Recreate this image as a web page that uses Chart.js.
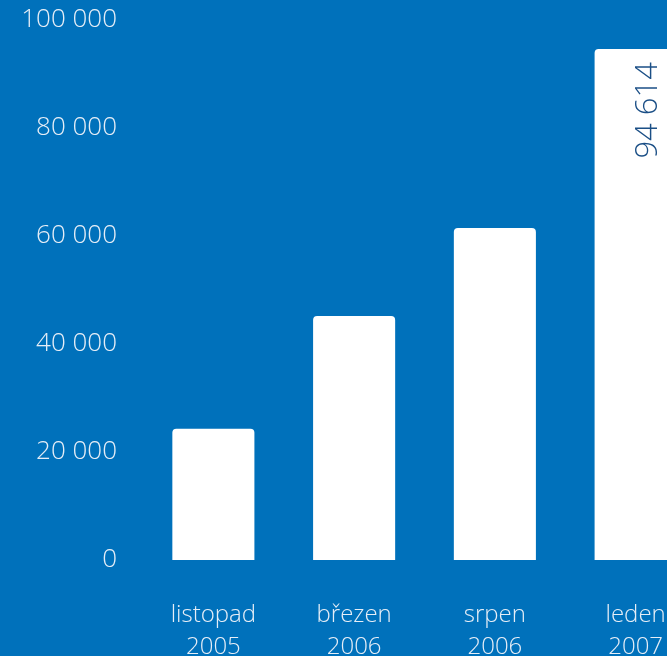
<!DOCTYPE html>
<html>
<head>
<meta charset="utf-8">
<script src="https://cdn.jsdelivr.net/npm/chart.js@4"></script>
<style>
    html, body { margin: 0; padding: 0; background: #0071bb; overflow: hidden; }
    #wrap { width: 710px; height: 656px; }
</style>
</head>
<body>
<div id="wrap"><canvas id="chart" width="710" height="656"></canvas></div>
<script>
(function () {
    "use strict";

    // Data
    const categories = [
        ["listopad", "2005"],
        ["březen", "2006"],
        ["srpen", "2006"],
        ["leden", "2007"],
    ];
    const values = [24300, 45200, 61500, 94614];
    const labelledBars = [3];
    const yTicks = [0, 20000, 40000, 60000, 80000, 100000];

    const fmt = (v) => String(v).replace(/\B(?=(\d{3})+(?!\d))/g, " ");

    // Value label drawn inside the last bar, rotated
    const valueLabel = {
        id: "valueLabel",
        afterDatasetsDraw(chart) {
            const ctx = chart.ctx;
            const meta = chart.getDatasetMeta(0);
            labelledBars.forEach((i) => {
                const bar = meta.data[i];
                ctx.save();
                ctx.translate(bar.x + 13, bar.y + 13);
                ctx.rotate(-Math.PI / 2);
                ctx.fillStyle = "#1b4f86";
                ctx.font = "300 31px 'Open Sans'";
                ctx.textAlign = "right";
                ctx.textBaseline = "middle";
                ctx.fillText(fmt(values[i]), 0, 0);
                ctx.restore();
            });
        },
    };

    const ctx = document.getElementById("chart").getContext("2d");

    new Chart(ctx, {
        type: "bar",
        data: {
            labels: categories,
            datasets: [
                {
                    data: values,
                    backgroundColor: "#ffffff",
                    borderWidth: 0,
                    borderRadius: 4,
                    barPercentage: 0.583,
                    categoryPercentage: 1,
                },
            ],
        },
        options: {
            responsive: false,
            animation: false,
            layout: { padding: { top: 20, right: 4, left: 0, bottom: 0 } },
            plugins: {
                legend: { display: false },
                tooltip: { enabled: false },
            },
            scales: {
                x: {
                    grid: { display: false },
                    border: { display: false },
                    ticks: {
                        color: "#e6eef7",
                        font: { family: "'Open Sans'", size: 24, weight: 300, lineHeight: 1.3 },
                        padding: 32,
                        maxRotation: 0,
                        autoSkip: false,
                    },
                    afterFit(scale) {
                        scale.height = 96;
                        scale.paddingTop = 0;
                        scale.paddingBottom = 0;
                    },
                },
                y: {
                    min: 0,
                    max: 100000,
                    afterBuildTicks(scale) {
                        scale.ticks = yTicks.map((v) => ({ value: v }));
                    },
                    grid: { display: false, drawTicks: false },
                    border: { display: false },
                    ticks: {
                        color: "#e6eef7",
                        font: { family: "'Open Sans'", size: 26, weight: 300 },
                        padding: 26,
                        callback: (v) => fmt(v),
                    },
                    afterFit(scale) {
                        scale.width = 143;
                        scale.paddingTop = 0;
                        scale.paddingBottom = 0;
                    },
                },
            },
        },
        plugins: [valueLabel],
    });
})();
</script>
</body>
</html>
